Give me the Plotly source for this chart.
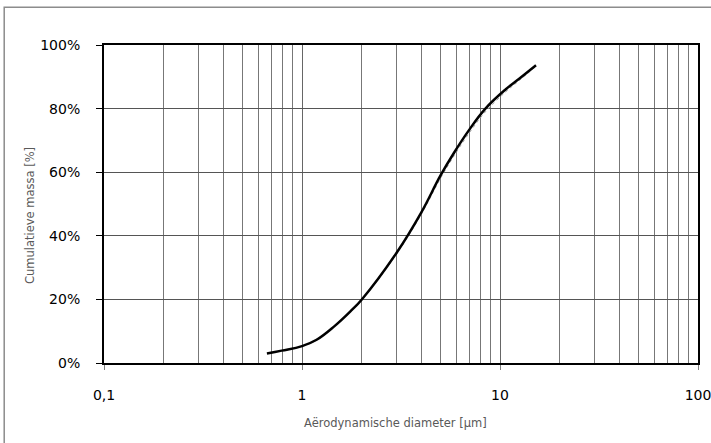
import plotly.graph_objects as go

# Aerodynamic diameter [um] and cumulative mass [%]
diameter = [0.665, 0.79, 1.0, 1.185, 1.46, 1.78, 2.0, 3.0, 4.0, 5.0, 5.87, 6.93, 8.44, 10.7, 12.5, 15.2]
cum_mass = [3.0, 3.9, 5.3, 7.3, 11.6, 16.6, 19.9, 34.6, 47.3, 58.9, 66.2, 73.0, 80.0, 86.1, 89.4, 93.6]
# faint companion (dotted) series
cum_mass_b = [3.0, 3.9, 5.2, 7.2, 11.5, 16.4, 19.7, 34.2, 46.7, 58.0, 65.2, 72.0, 79.0, 85.3, 88.8, 93.3]

x_tickvals = [0.1, 1, 10, 100]
x_ticktext = ["0,1", "1", "10", "100"]
x_minorvals = [0.2, 0.3, 0.4, 0.5, 0.6, 0.7, 0.8, 0.9,
               2, 3, 4, 5, 6, 7, 8, 9,
               20, 30, 40, 50, 60, 70, 80, 90]
y_tickvals = [0, 20, 40, 60, 80, 100]
y_ticktext = ["0%", "20%", "40%", "60%", "80%", "100%"]

fig = go.Figure()
fig.add_trace(go.Scatter(x=diameter, y=cum_mass_b, mode="lines",
                         line=dict(color="#a0a0a0", width=1, dash="dot", shape="spline"),
                         showlegend=False, hoverinfo="skip"))
fig.add_trace(go.Scatter(x=diameter, y=cum_mass, mode="lines",
                         line=dict(color="black", width=2.5, shape="spline", smoothing=1.2),
                         showlegend=False))

fig.update_layout(
    width=711, height=443,
    margin=dict(l=104, r=13, t=45, b=80, autoexpand=False),
    paper_bgcolor="white", plot_bgcolor="white",
    font=dict(family="DejaVu Sans", color="black"),
    xaxis=dict(type="log", range=[-1, 2], automargin=False,
               tickvals=x_tickvals, ticktext=x_ticktext,
               ticks="outside", ticklen=5, tickcolor="#808080",
               tickfont=dict(size=14, color="black"),
               ticklabelstandoff=13, ticklabeloverflow="allow",
               showgrid=True, gridcolor="#666666", gridwidth=1,
               minor=dict(tickvals=x_minorvals, showgrid=True, gridcolor="#777777",
                          gridwidth=1, ticks=""),
               showline=True, linecolor="black", linewidth=2, mirror=True,
               zeroline=False),
    yaxis=dict(range=[0, 100], automargin=False,
               tickvals=y_tickvals, ticktext=y_ticktext,
               ticks="outside", ticklen=6, tickcolor="black",
               tickfont=dict(size=14, color="black"),
               ticklabelstandoff=13,
               showgrid=True, gridcolor="#555555", gridwidth=1,
               showline=True, linecolor="black", linewidth=2, mirror=True,
               zeroline=False),
    shapes=[dict(type="rect", xref="paper", yref="paper",
                 x0=-0.168, x1=2.0, y0=-1.0, y1=1.119,
                 line=dict(color="#8c8c8c", width=1.5), fillcolor="rgba(0,0,0,0)",
                 layer="below")],
    annotations=[
        dict(text="Cumulatieve massa [%]", xref="paper", yref="paper",
             x=-0.1246, y=0.465, textangle=-90, showarrow=False,
             font=dict(size=11.5, color="#595959"), xanchor="center", yanchor="middle"),
        dict(text="Aërodynamische diameter [µm]", xref="paper", yref="paper",
             x=0.49, y=-0.19, showarrow=False,
             font=dict(size=11.5, color="#595959"), xanchor="center", yanchor="middle"),
    ],
)

fig.write_html("out.html", config={"displayModeBar": False},
               post_script="document.body.style.margin='0';")
